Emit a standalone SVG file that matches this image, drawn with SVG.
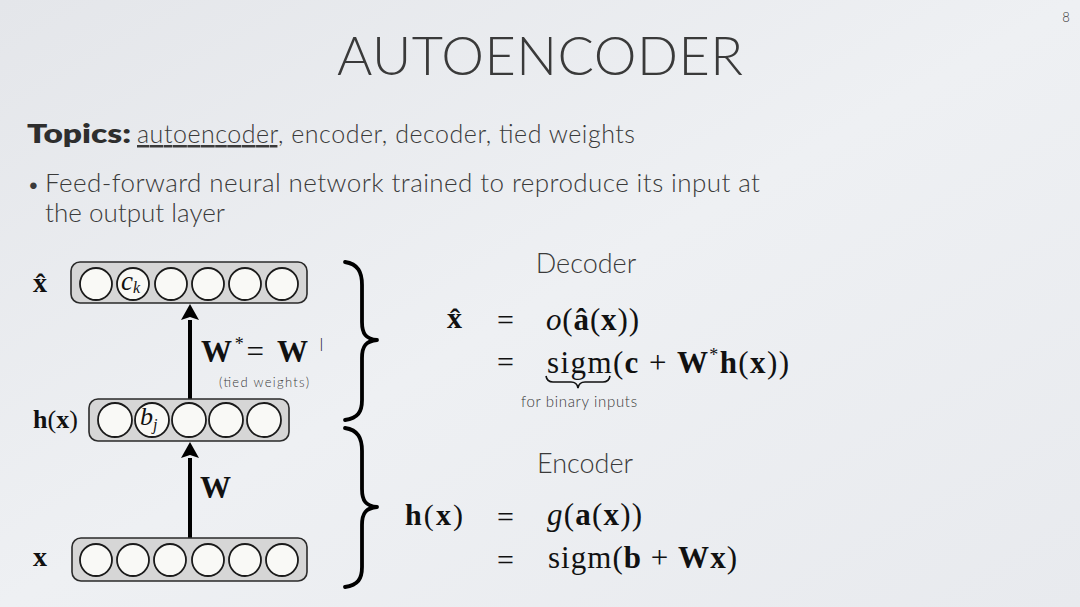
<svg xmlns="http://www.w3.org/2000/svg" width="1080" height="607" viewBox="0 0 1080 607">
<defs>
  <linearGradient id="bg" x1="0" y1="0" x2="1" y2="1">
    <stop offset="0" stop-color="#e4e6ea"/>
    <stop offset="0.5" stop-color="#eef0f3"/>
    <stop offset="1" stop-color="#e8eaee"/>
  </linearGradient>
  <marker id="ah" viewBox="0 0 16 18" refX="0" refY="9" markerWidth="16" markerHeight="18" markerUnits="userSpaceOnUse" orient="auto">
    <path d="M0,0 L16,9 L0,18 L3,9 z" fill="#000"/>
  </marker>
  <style>
    .sans{font-family:Lato,"Open Sans","DejaVu Sans",sans-serif;font-weight:300;fill:#3a3a3a}
    .math{font-family:"Liberation Serif","DejaVu Serif",serif;fill:#111}
    .b{font-weight:bold}
    .i{font-style:italic}
    .layer{fill:#d6d6d6;stroke:#2a2a2a;stroke-width:1.6}
    .unit{fill:#f9f9f6;stroke:#1a1a1a;stroke-width:1.8}
    .conn{stroke:#000;stroke-width:4;fill:none}
    .brace{stroke:#000;stroke-width:3.8;fill:none;stroke-linecap:round;stroke-linejoin:round}
  </style>
</defs>
<rect width="1080" height="607" fill="url(#bg)"/>

<text x="1066" y="22" class="sans" font-size="13" text-anchor="middle">8</text>
<text x="540" y="75" class="sans" font-size="54" text-anchor="middle" textLength="406">AUTOENCODER</text>

<text x="27" y="143" class="sans" font-size="27" textLength="104" lengthAdjust="spacingAndGlyphs"><tspan style="font-weight:800" fill="#2e2e2e">Topics:</tspan></text>
<text x="137" y="143" class="sans" font-size="25" textLength="498"><tspan text-decoration="underline">autoencoder</tspan>, encoder, decoder, tied weights</text>
<text x="27" y="192" class="sans" font-size="22">•</text>
<text x="45" y="192" class="sans" font-size="26" textLength="715">Feed-forward neural network trained to reproduce its input at</text>
<text x="45" y="222" class="sans" font-size="26" textLength="180">the output layer</text>

<g id="connectors">
  <line class="conn" x1="190" y1="538" x2="190" y2="458" marker-end="url(#ah)"/>
  <line class="conn" x1="190" y1="399" x2="190" y2="320" marker-end="url(#ah)"/>
</g>

<g id="layer-output">
  <rect class="layer" x="71" y="262" width="236" height="41" rx="9"/>
  <circle class="unit" cx="96" cy="284" r="16"/>
  <circle class="unit" cx="133" cy="284" r="16"/>
  <circle class="unit" cx="171" cy="284" r="16"/>
  <circle class="unit" cx="208" cy="284" r="16"/>
  <circle class="unit" cx="245" cy="284" r="16"/>
  <circle class="unit" cx="282" cy="284" r="16"/>
  <text x="121" y="290" class="math i" font-size="27">c<tspan font-size="16" dy="3">k</tspan></text>
  <text x="33" y="292" class="math b" font-size="28">x̂</text>
</g>

<g id="layer-hidden">
  <rect class="layer" x="89" y="399" width="200" height="42" rx="9"/>
  <circle class="unit" cx="115" cy="420" r="17"/>
  <circle class="unit" cx="152" cy="420" r="17"/>
  <circle class="unit" cx="189" cy="420" r="17"/>
  <circle class="unit" cx="226" cy="420" r="17"/>
  <circle class="unit" cx="264" cy="420" r="17"/>
  <text x="140" y="425" class="math i" font-size="26">b<tspan font-size="16" dy="5">j</tspan></text>
  <text x="33" y="428" class="math" font-size="26"><tspan class="b">h</tspan>(<tspan class="b">x</tspan>)</text>
</g>

<g id="layer-input">
  <rect class="layer" x="72" y="538" width="235" height="43" rx="9"/>
  <circle class="unit" cx="96" cy="560" r="16"/>
  <circle class="unit" cx="133" cy="560" r="16"/>
  <circle class="unit" cx="170" cy="560" r="16"/>
  <circle class="unit" cx="208" cy="560" r="16"/>
  <circle class="unit" cx="245" cy="560" r="16"/>
  <circle class="unit" cx="282" cy="560" r="16"/>
  <text x="33" y="566" class="math b" font-size="28">x</text>
</g>

<g id="weight-labels">
  <text x="201" y="362" class="math b" font-size="31" textLength="107">W<tspan font-weight="normal" font-size="18" dy="-12">*</tspan><tspan font-weight="normal" dy="12">= </tspan>W</text>
  <text x="320" y="348" class="math" font-size="14">|</text>
  <text x="219" y="387" class="sans" font-size="13" textLength="90" fill="#666">(tied weights)</text>
  <text x="200" y="498" class="math b" font-size="31">W</text>
</g>

<g id="braces">
  <path class="brace" d="M345,262 C358,264 362,272 362,285 L362,322 C362,334 366,339 377,340 C366,341 362,346 362,358 L362,400 C362,412 358,418 345,420"/>
  <path class="brace" d="M345,428 C358,430 362,438 362,451 L362,489 C362,501 366,506 377,507 C366,508 362,513 362,525 L362,567 C362,579 358,585 345,587"/>
</g>

<g id="decoder">
  <text x="586" y="273" class="sans" font-size="27" text-anchor="middle">Decoder</text>
  <text x="447" y="328" class="math b" font-size="30">x̂</text>
  <text x="497" y="330" class="math" font-size="30">=</text>
  <text x="546" y="330" class="math" font-size="31" textLength="93"><tspan class="i">o</tspan>(<tspan class="b">â</tspan>(<tspan class="b">x</tspan>))</text>
  <text x="497" y="372" class="math" font-size="30">=</text>
  <text x="547" y="373" class="math" font-size="31" textLength="242">sigm(<tspan class="b">c</tspan> + <tspan class="b">W</tspan><tspan font-size="18" dy="-12">*</tspan><tspan class="b" dy="12">h</tspan>(<tspan class="b">x</tspan>))</text>
  <path d="M546,376 Q547,382 553,382 L571,382 Q577,382 578,388 Q579,382 585,382 L603,382 Q609,382 610,376" fill="none" stroke="#111" stroke-width="1.6"/>
  <text x="521" y="407" class="sans" font-size="15" fill="#555" textLength="116">for binary inputs</text>
</g>

<g id="encoder">
  <text x="585" y="473" class="sans" font-size="27" text-anchor="middle">Encoder</text>
  <text x="405" y="525" class="math" font-size="30" textLength="58"><tspan class="b">h</tspan>(<tspan class="b">x</tspan>)</text>
  <text x="497" y="527" class="math" font-size="30">=</text>
  <text x="547" y="525" class="math" font-size="31" textLength="95"><tspan class="i">g</tspan>(<tspan class="b">a</tspan>(<tspan class="b">x</tspan>))</text>
  <text x="497" y="570" class="math" font-size="30">=</text>
  <text x="548" y="568" class="math" font-size="31" textLength="189">sigm(<tspan class="b">b</tspan> + <tspan class="b">Wx</tspan>)</text>
</g>
</svg>
